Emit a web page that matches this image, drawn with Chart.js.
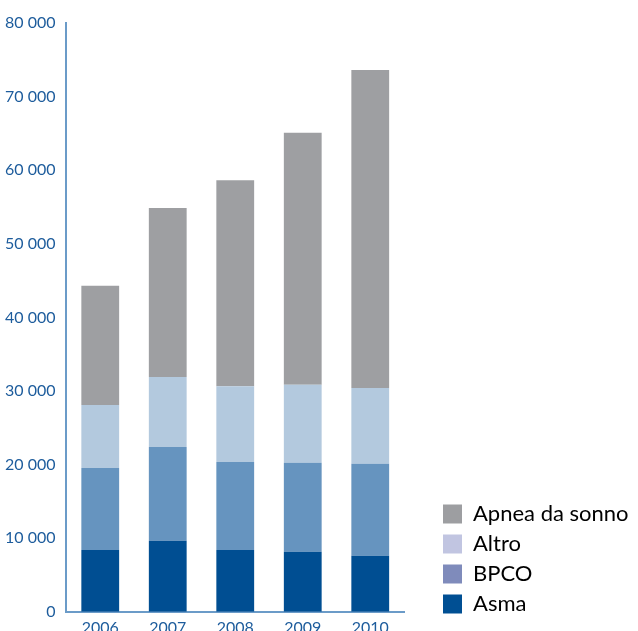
<!DOCTYPE html>
<html>
<head>
<meta charset="utf-8">
<script src="https://cdn.jsdelivr.net/npm/chart.js@4/dist/chart.umd.min.js"></script>
<style>
  html, body { margin: 0; padding: 0; background: #fff; overflow: hidden; }
  #wrap { position: relative; width: 638px; height: 635px; }
</style>
</head>
<body>
<div id="wrap"><canvas id="chart"></canvas></div>
<script>
// dati
const anni = ['2006', '2007', '2008', '2009', '2010'];
const asma = [8400, 9650, 8400, 8150, 7600];
const bpco = [11150, 12750, 11950, 12100, 12500];
const altro = [8550, 9500, 10300, 10600, 10300];
const apnea = [16200, 22950, 28000, 34250, 43200];
const tickValori = [0, 10000, 20000, 30000, 40000, 50000, 60000, 70000, 80000];

const blu = '#1d5c9c';
const asse = '#6b9bc8';

// i quadratini della legenda hanno tinte un po' diverse dalle barre
const coloriLegenda = ['#004f93', '#7f8bbb', '#c1c5e1', '#9d9ea1'];

// la legenda occupa tutta la fascia a destra dell'asse x
const ritocchi = {
    id: 'ritocchi',
    beforeLayout(chart) {
        const leg = chart.legend;
        if (leg && !leg._fitOk) {
            const fitOrig = leg.fit;
            leg.fit = function() { fitOrig.call(this); this.width = 234; };
            leg._fitOk = true;
        }
    },
    afterLayout(chart) {
        chart.legend.left += 31;
        chart.legend.bottom -= 12;
    }
};

const ctx = document.getElementById('chart');
new Chart(ctx, {
    type: 'bar',
    data: {
        labels: anni,
        datasets: [
            { label: 'Asma', data: asma, backgroundColor: '#004e92' },
            { label: 'BPCO', data: bpco, backgroundColor: '#6694bf' },
            { label: 'Altro', data: altro, backgroundColor: '#b3c9de' },
            { label: 'Apnea da sonno', data: apnea, backgroundColor: '#9e9fa2' }
        ]
    },
    plugins: [ritocchi],
    options: {
        responsive: true,
        maintainAspectRatio: false,
        animation: false,
        layout: { padding: { top: 23, left: 2, right: 0, bottom: 0 } },
        datasets: { bar: { barPercentage: 0.56, categoryPercentage: 1.0 } },
        plugins: {
            tooltip: { enabled: false },
            legend: {
                position: 'right',
                align: 'end',
                reverse: true,
                labels: {
                    font: { family: 'Lato', size: 22 },
                    color: '#1a1a1a',
                    boxWidth: 19,
                    boxHeight: 19,
                    padding: 8,
                    generateLabels: function(chart) {
                        return chart.data.datasets.map((ds, i) => ({
                            text: ds.label,
                            fillStyle: coloriLegenda[i],
                            strokeStyle: coloriLegenda[i],
                            lineWidth: 0,
                            datasetIndex: i,
                            hidden: false
                        }));
                    }
                }
            }
        },
        scales: {
            x: {
                stacked: true,
                grid: { display: false },
                border: { color: asse, width: 2 },
                ticks: { color: blu, font: { family: 'Lato', size: 16 }, padding: -2 }
            },
            y: {
                stacked: true,
                min: 0,
                max: 80000,
                grid: { display: false },
                border: { color: asse, width: 2 },
                afterBuildTicks: function(axis) {
                    axis.ticks = tickValori.map(v => ({ value: v }));
                },
                ticks: {
                    color: blu,
                    font: { family: 'Lato', size: 16 },
                    padding: 3,
                    callback: function(v) {
                        return String(v).replace(/\B(?=(\d{3})+(?!\d))/g, ' ');
                    }
                }
            }
        }
    }
});
</script>
</body>
</html>
